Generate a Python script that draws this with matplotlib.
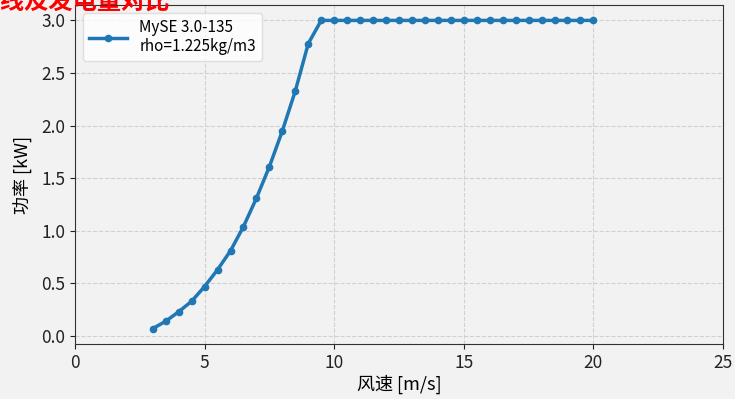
import matplotlib
matplotlib.use("Agg")
import matplotlib.pyplot as plt
import numpy as np

plt.rcParams['font.family'] = ['Noto Sans CJK SC', 'DejaVu Sans']
plt.rcParams['axes.unicode_minus'] = False

wind_speed = [3.0, 3.5, 4.0, 4.5, 5.0, 5.5, 6.0, 6.5, 7.0, 7.5, 8.0, 8.5, 9.0, 9.5,
              10.0, 10.5, 11.0, 11.5, 12.0, 12.5, 13.0, 13.5, 14.0, 14.5, 15.0,
              15.5, 16.0, 16.5, 17.0, 17.5, 18.0, 18.5, 19.0, 19.5, 20.0]
power_kw = [0.07, 0.14, 0.23, 0.33, 0.47, 0.63, 0.81, 1.04, 1.31, 1.61, 1.95, 2.33, 2.78, 3.0,
            3.0, 3.0, 3.0, 3.0, 3.0, 3.0, 3.0, 3.0, 3.0, 3.0, 3.0,
            3.0, 3.0, 3.0, 3.0, 3.0, 3.0, 3.0, 3.0, 3.0, 3.0]
series_label = "MySE 3.0-135\nrho=1.225kg/m3"
title_text = "功率曲线及发电量对比"
xlabel_text = "风速 [m/s]"
ylabel_text = "功率 [kW]"

bg = '#f2f2f2'
fig = plt.figure(figsize=(7.35, 3.99), dpi=100, facecolor=bg)
ax = fig.add_axes([75/735, 1-344/399, (723-75)/735, (344-5)/399])
ax.set_facecolor(bg)

ax.plot(wind_speed, power_kw, '-o', color='#1f77b4', linewidth=2.5, markersize=4.5,
        label=series_label)

ax.set_xlim(0, 25)
ax.set_xticks([0, 5, 10, 15, 20, 25])
ax.set_yticks([0.0, 0.5, 1.0, 1.5, 2.0, 2.5, 3.0])
ax.grid(True, linestyle='--', color='#d0d0d0', linewidth=0.8)
ax.tick_params(labelsize=12.5, colors='#222222')
for s in ax.spines.values():
    s.set_color('#333333')
ax.set_xlabel(xlabel_text, fontsize=13, labelpad=2)
ax.set_ylabel(ylabel_text, fontsize=13, labelpad=6)

leg = ax.legend(loc='upper left', fontsize=11, frameon=True, facecolor='white',
                edgecolor='#d8d8d8', handlelength=2.5)

fig.text(170/735, 1.0 - 2/399, title_text, color='red', fontsize=17.5, fontweight='bold',
         ha='right', va='center')

fig.savefig('out.png', dpi=100, facecolor=bg)
